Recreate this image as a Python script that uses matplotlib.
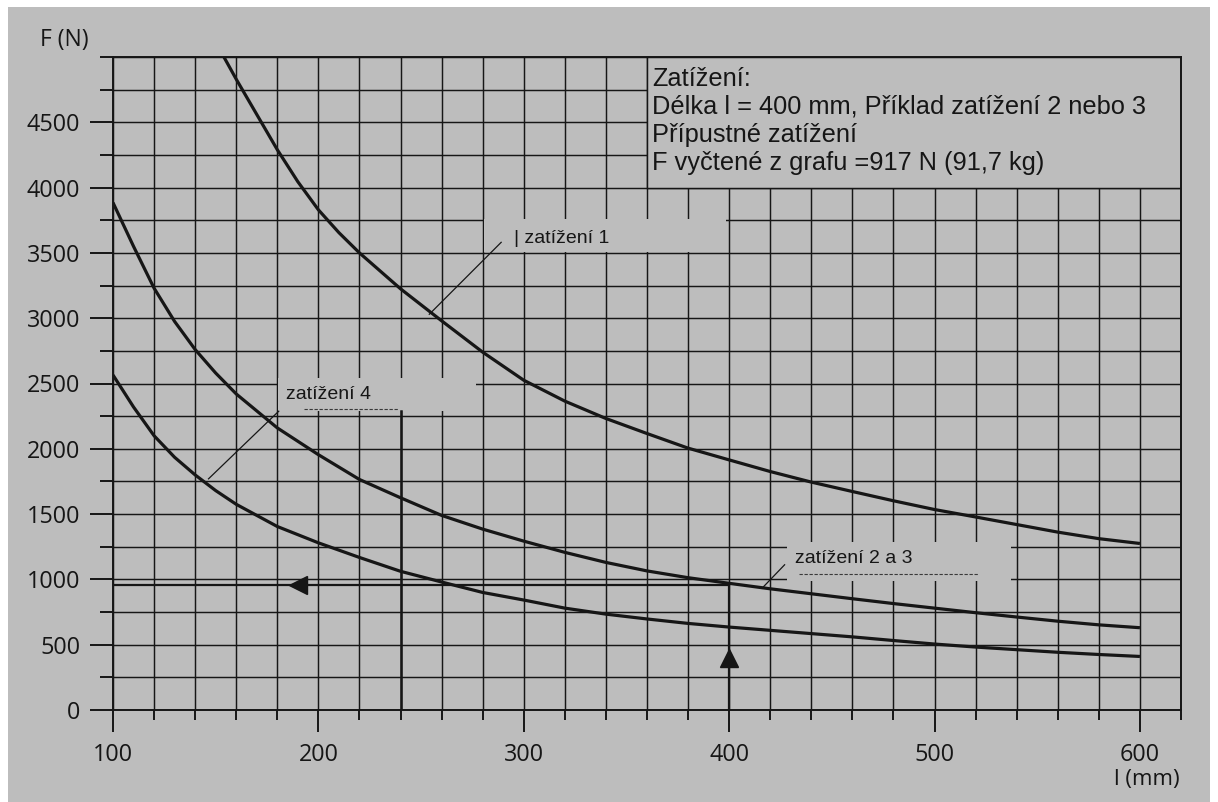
import numpy as np
import matplotlib
import matplotlib.pyplot as plt
from matplotlib.patches import Rectangle

## Values (l in mm, F in N)
l_curve1 = [154, 160, 170, 180, 190, 200, 210, 220, 240, 260, 280, 300, 320,
            340, 360, 380, 400, 420, 440, 460, 480, 500, 520, 540, 560, 580,
            600]
f_curve1 = [5000, 4830, 4560, 4290, 4045, 3830, 3655, 3500, 3225, 2980, 2740,
            2525, 2365, 2232, 2117, 2005, 1915, 1826, 1745, 1673, 1602, 1535,
            1478, 1420, 1362, 1312, 1275]

l_curve23 = [100, 110, 120, 130, 140, 150, 160, 180, 200, 220, 240, 260, 280,
             300, 320, 340, 360, 380, 400, 420, 440, 460, 480, 500, 520, 540,
             560, 580, 600]
f_curve23 = [3885, 3550, 3230, 2975, 2760, 2580, 2420, 2160, 1955, 1765, 1625,
             1490, 1385, 1293, 1207, 1130, 1065, 1013, 970, 928, 890, 852, 815,
             780, 745, 712, 680, 652, 630]

l_curve4 = [100, 110, 120, 130, 140, 150, 160, 180, 200, 220, 240, 260, 280,
            300, 320, 340, 360, 380, 400, 420, 440, 460, 480, 500, 520, 540,
            560, 580, 600]
f_curve4 = [2565, 2320, 2100, 1935, 1800, 1680, 1575, 1405, 1280, 1168, 1062,
            980, 900, 842, 780, 734, 697, 663, 635, 610, 585, 560, 532, 505,
            482, 462, 442, 425, 410]

# example read-off: l = 400 mm -> F on curve 2/3
l_example = 400
f_example = 960

x_major = list(range(100, 601, 100))
x_minor = list(range(100, 621, 20))
y_major = list(range(0, 4501, 500))
y_minor = list(range(0, 5001, 250))

info_lines = ['Zatížení:',
              'Délka l = 400 mm, Příklad zatížení 2 nebo 3',
              'Přípustné zatížení',
              'F vyčtené z grafu =917 N (91,7 kg)']

bg = '#bdbdbd'
ink = '#161616'

fig = plt.figure(figsize=(12.18, 8.02), dpi=100)
fig.patch.set_facecolor('white')
fig.patches.append(Rectangle((8/1218, 0), 1202/1218, 1 - 7/802,
                             transform=fig.transFigure, facecolor=bg,
                             edgecolor='none', zorder=-10))

ax = fig.add_axes([113/1218, 1 - 710/802, (1181 - 113)/1218, (710 - 57)/802])
ax.set_facecolor(bg)
ax.set_xlim(100, 620)
ax.set_ylim(0, 5000)

ax.set_xticks(x_major)
ax.set_xticks(x_minor, minor=True)
ax.set_yticks(y_major)
ax.set_yticks(y_minor, minor=True)
ax.set_axisbelow(True)
ax.grid(which='both', color=ink, lw=1.05)

ax.tick_params(axis='x', which='major', length=16, width=1.4, color=ink,
               pad=8, labelsize=16.8, labelcolor=ink)
ax.tick_params(axis='x', which='minor', length=7.5, width=1.4, color=ink)
ax.tick_params(axis='y', which='major', length=16.5, width=1.4, color=ink,
               pad=7, labelsize=16.8, labelcolor=ink)
ax.tick_params(axis='y', which='minor', length=9.5, width=1.4, color=ink)
for lab in ax.get_xticklabels() + ax.get_yticklabels():
    lab.set_fontfamily('Open Sans')
for sp in ax.spines.values():
    sp.set_color(ink)
    sp.set_linewidth(1.4)

## Label boxes hide the grid behind them
ax.add_patch(Rectangle((360, 4000), 260, 1000, facecolor=bg, edgecolor=ink,
                       lw=1.05, zorder=2))
for x0, y0, w, h in [(280.5, 3510, 118, 250), (180.5, 2290, 96, 255),
                     (428, 990, 109, 296)]:
    ax.add_patch(Rectangle((x0, y0), w, h, facecolor=bg, edgecolor='none',
                           zorder=2))

# thicker grid line at 240 mm
ax.plot([240, 240], [0, 2290], color=ink, lw=1.8, zorder=3)

ax.plot(l_curve1, f_curve1, color=ink, lw=2.3, zorder=4,
        solid_capstyle='butt')
ax.plot(l_curve23, f_curve23, color=ink, lw=2.3, zorder=4,
        solid_capstyle='butt')
ax.plot(l_curve4, f_curve4, color=ink, lw=2.3, zorder=4,
        solid_capstyle='butt')

## Read-off arrows
ax.plot([100, l_example], [f_example, f_example], color=ink, lw=1.6, zorder=4)
ax.plot([l_example, l_example], [0, f_example], color=ink, lw=1.6, zorder=4)
ax.plot([190], [f_example], marker='<', ms=13, color=ink, zorder=5)
ax.plot([l_example], [400], marker='^', ms=13, color=ink, zorder=5)

## Leader lines and curve names
ax.plot([254, 289], [3030, 3581], color=ink, lw=0.9, zorder=4)
ax.plot([146.5, 180.7], [1770, 2288], color=ink, lw=0.9, zorder=4)
ax.plot([416, 427], [932, 1112], color=ink, lw=0.9, zorder=4)

lab_font = dict(family='Liberation Sans', fontsize=14, color=ink, zorder=5,
                va='center', ha='left')
ax.text(295, 3611, '| zatížení 1', **lab_font)
ax.text(184, 2414, 'zatížení 4', **lab_font)
ax.text(432, 1160, 'zatížení 2 a 3', **lab_font)

# faint scan underlines
ax.plot([193, 239], [2305, 2305], color='#3a3a3a', lw=0.8, ls=(0, (3, 1.5)),
        zorder=4)
ax.plot([434, 521], [1041, 1041], color='#3a3a3a', lw=0.8, ls=(0, (3, 1.5)),
        zorder=4)

for i, line in enumerate(info_lines):
    fig.text(652/1218, 1 - (85.5 + 28.2*i)/802, line, family='Liberation Sans',
             fontsize=18.3, color=ink, va='baseline', ha='left', zorder=6)

fig.text(40/1218, 1 - 40/802, 'F (N)', family='Open Sans', fontsize=16.5,
         color=ink, va='center', ha='left')
fig.text(1180/1218, 1 - 780/802, 'l (mm)', family='Open Sans', fontsize=16,
         color=ink, va='center', ha='right')

fig.savefig('out.png', dpi=100, facecolor=fig.get_facecolor())
